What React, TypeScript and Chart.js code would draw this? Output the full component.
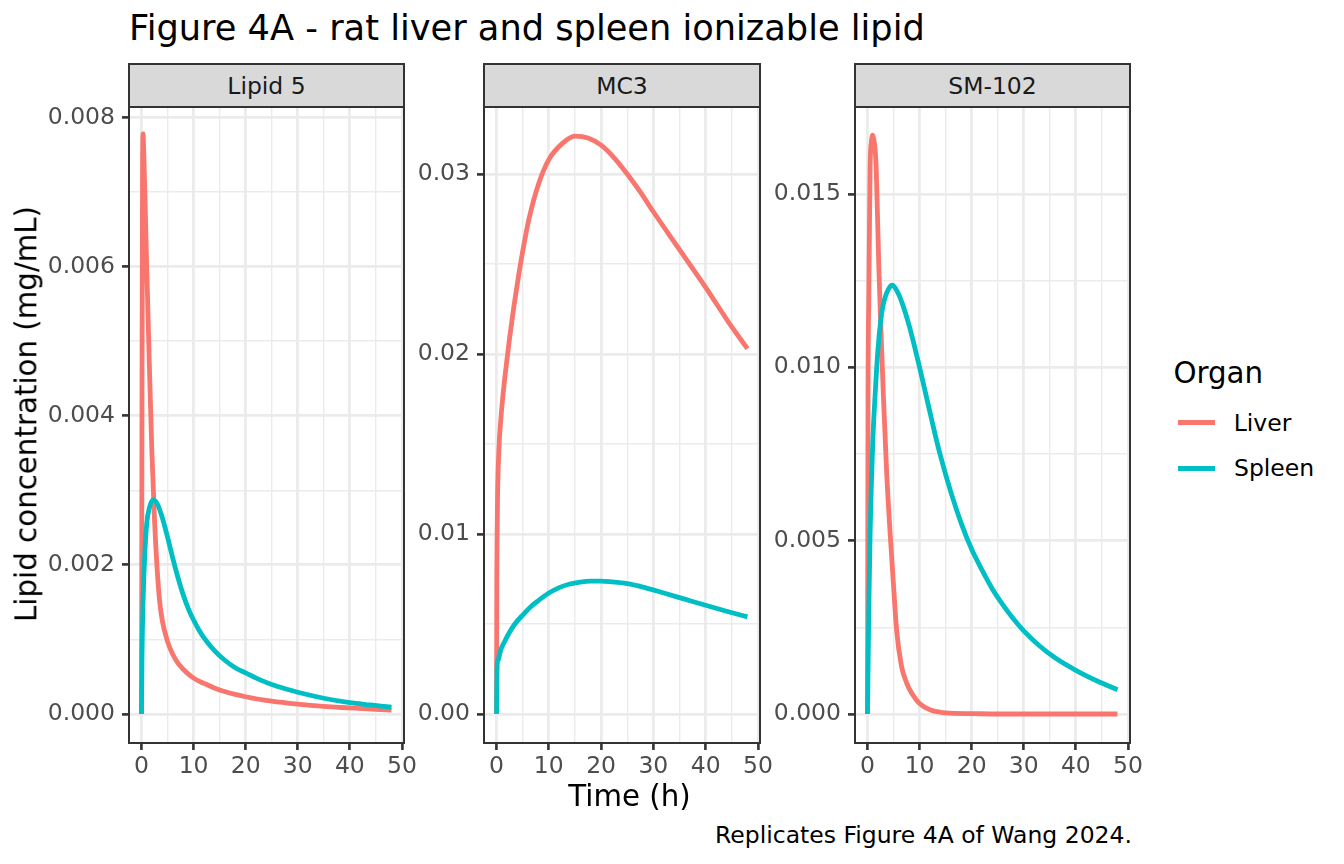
import { useEffect, useRef } from "react";
import { Chart, registerables, type ChartConfiguration } from "chart.js";

Chart.register(...registerables);

const FONT = "'DejaVu Sans', sans-serif";
const LIVER_COLOR = "#F8766D";
const SPLEEN_COLOR = "#00BFC4";

// time axis (h)
const X_MAJOR = [0, 10, 20, 30, 40, 50];
const X_MINOR = [5, 15, 25, 35, 45];

// Lipid 5
const L5_LIVER_T = [0, 0.1, 0.2, 0.3, 0.45, 0.75, 1, 1.5, 2, 2.5, 3, 3.5, 4, 5, 6, 7, 8, 10, 12, 15, 20, 25, 30, 35, 40, 45, 48];
const L5_LIVER = [0, 0.0045, 0.0072, 0.00778, 0.0075, 0.0067, 0.006, 0.0047, 0.0035, 0.0026, 0.00195, 0.0015, 0.00125, 0.00097, 0.0008, 0.00068, 0.0006, 0.00048, 0.00041, 0.00032, 0.00023, 0.00017, 0.00013, 0.0001, 0.00008, 0.00006, 0.00005];
const L5_SPLEEN_T = [0, 0.1, 0.3, 0.6, 1, 1.5, 2.2, 3, 4, 5, 6, 7, 8, 9, 10, 11, 12, 14, 16, 18, 20, 23, 26, 30, 35, 40, 44, 48];
const L5_SPLEEN = [0, 0.0008, 0.0015, 0.0021, 0.00255, 0.00276, 0.00287, 0.00282, 0.00263, 0.00237, 0.00209, 0.00183, 0.0016, 0.00141, 0.00126, 0.00113, 0.00102, 0.00085, 0.00072, 0.00062, 0.00055, 0.00045, 0.00037, 0.00029, 0.00021, 0.00015, 0.00012, 0.00009];
const L5_Y_MAJOR = [0, 0.002, 0.004, 0.006, 0.008];
const L5_Y_MINOR = [0.001, 0.003, 0.005, 0.007];

// MC3
const MC3_LIVER_T = [0, 0.05, 0.1, 0.2, 0.45, 0.8, 1.4, 2, 2.5, 3.3, 4.3, 5, 6.2, 8.1, 10, 12.6, 15, 17.5, 20, 22.5, 25, 27.5, 30, 35, 40, 45, 48];
const MC3_LIVER = [0, 0.0075, 0.0097, 0.0122, 0.0147, 0.0163, 0.0182, 0.0197, 0.0209, 0.0226, 0.0245, 0.0257, 0.0275, 0.0295, 0.0308, 0.0317, 0.0321, 0.032, 0.0316, 0.0309, 0.0300, 0.029, 0.0279, 0.0258, 0.0237, 0.0215, 0.0203];
const MC3_SPLEEN_T = [0, 0.1, 0.3, 0.8, 1.5, 2.4, 3.5, 5, 6.5, 8, 10, 12, 14, 16, 18, 20, 22, 25, 28, 32, 36, 40, 44, 48];
const MC3_SPLEEN = [0, 0.0026, 0.003, 0.00356, 0.004, 0.0045, 0.005, 0.0055, 0.00595, 0.0063, 0.00672, 0.00702, 0.00722, 0.00733, 0.00738, 0.00738, 0.00734, 0.00724, 0.00705, 0.00672, 0.00638, 0.00604, 0.00571, 0.0054];
const MC3_Y_MAJOR = [0, 0.01, 0.02, 0.03];
const MC3_Y_MINOR = [0.005, 0.015, 0.025];

// SM-102
const SM_LIVER_T = [0, 0.1, 0.25, 0.5, 0.75, 1, 1.3, 1.66, 2.17, 2.6, 3.07, 3.7, 4.35, 5, 5.6, 6.5, 7.5, 8.5, 10, 12, 15, 20, 25, 30, 35, 40, 45, 48];
const SM_LIVER = [0, 0.009, 0.012, 0.0158, 0.0165, 0.0167, 0.0165, 0.0158, 0.0129, 0.011, 0.0091, 0.0069, 0.0052, 0.0037, 0.0024, 0.0014, 0.0009, 0.0006, 0.0003, 0.00012, 0.00003, 0.00001, 0, 0, 0, 0, 0, 0];
const SM_SPLEEN_T = [0, 0.25, 0.5, 1, 1.5, 2, 2.5, 3, 3.5, 4, 4.7, 5, 6, 7, 8, 9, 10, 11, 12, 13, 14, 16, 18, 20, 22, 24, 26, 28, 30, 33, 36, 40, 44, 48];
const SM_SPLEEN = [0, 0.003, 0.0052, 0.0078, 0.0093, 0.0105, 0.0113, 0.0118, 0.01207, 0.01225, 0.01237, 0.01235, 0.0121, 0.0117, 0.0112, 0.01062, 0.01, 0.00935, 0.0087, 0.00805, 0.00745, 0.0064, 0.0055, 0.00475, 0.00415, 0.0036, 0.00315, 0.00275, 0.0024, 0.00197, 0.00162, 0.00126, 0.00096, 0.0007];
const SM_Y_MAJOR = [0, 0.005, 0.01, 0.015];
const SM_Y_MINOR = [0.0025, 0.0075, 0.0125];

// layout (px)
const PLOT_TOP = 107;
const PLOT_BOTTOM = 743;
const STRIP_TOP = 63;
const AXIS_W = 90;
const PAD_TOP = 16;
const PAD_RIGHT = 18;
const XAXIS_H = 50;

type TickSpec = { value: number; major: boolean };

function tickList(major: number[], minor: number[]): TickSpec[] {
  return [
    ...major.map((v) => ({ value: v, major: true })),
    ...minor.map((v) => ({ value: v, major: false })),
  ].sort((a, b) => a.value - b.value);
}

const framePlugin = {
  id: "frame",
  afterDraw(chart: Chart) {
    const { ctx, chartArea } = chart;
    ctx.save();
    ctx.strokeStyle = "#333333";
    ctx.lineWidth = 2;
    ctx.strokeRect(chartArea.left, chartArea.top, chartArea.right - chartArea.left, chartArea.bottom - chartArea.top);
    ctx.restore();
  },
};

interface PanelProps {
  title: string;
  left: number;
  right: number;
  yMin: number;
  yMax: number;
  yMajor: number[];
  yMinor: number[];
  digits: number;
  liverT: number[];
  liver: number[];
  spleenT: number[];
  spleen: number[];
}

function gridOpts() {
  return {
    color: "#EBEBEB",
    lineWidth: (c: any) => (c.tick && c.tick.major ? 2.8 : 1.4),
    tickColor: (c: any) => (c.tick && c.tick.major ? "#333333" : "rgba(0,0,0,0)"),
    tickWidth: 2.6,
    tickLength: 7,
    drawTicks: true,
  };
}

function Panel(p: PanelProps) {
  const canvasRef = useRef<HTMLCanvasElement>(null);
  const w = p.right - p.left + AXIS_W + PAD_RIGHT;
  const h = PLOT_BOTTOM - PLOT_TOP + PAD_TOP + XAXIS_H;

  useEffect(() => {
    if (!canvasRef.current) return;
    const xTicks = tickList(X_MAJOR, X_MINOR);
    const yTicks = tickList(p.yMajor, p.yMinor);
    const tickFont = { family: FONT, size: 23.5 };

    const config: ChartConfiguration<"line"> = {
      type: "line",
      data: {
        datasets: [
          {
            label: "Spleen",
            data: p.spleenT.map((t, i) => ({ x: t, y: p.spleen[i] })),
            borderColor: SPLEEN_COLOR,
            borderWidth: 4.8,
            pointRadius: 0,
            cubicInterpolationMode: "monotone",
            borderJoinStyle: "round",
            order: 0,
          },
          {
            label: "Liver",
            data: p.liverT.map((t, i) => ({ x: t, y: p.liver[i] })),
            borderColor: LIVER_COLOR,
            borderWidth: 4.8,
            pointRadius: 0,
            cubicInterpolationMode: "monotone",
            borderJoinStyle: "round",
            order: 1,
          },
        ],
      },
      options: {
        animation: false,
        responsive: false,
        events: [],
        layout: { padding: { top: PAD_TOP, right: PAD_RIGHT, left: 0, bottom: 0 } },
        plugins: { legend: { display: false }, tooltip: { enabled: false } },
        scales: {
          x: {
            type: "linear",
            min: -2.4,
            max: 50.4,
            afterBuildTicks: (s: any) => {
              s.ticks = xTicks.map((t) => ({ ...t }));
            },
            afterFit: (s: any) => {
              s.height = XAXIS_H;
              s.paddingLeft = 0;
              s.paddingRight = 0;
              s.paddingTop = 0;
              s.paddingBottom = 0;
            },
            border: { display: false },
            grid: gridOpts() as any,
            ticks: {
              autoSkip: false,
              maxRotation: 0,
              padding: 3,
              color: "#4D4D4D",
              font: tickFont,
              callback: (v: any, i: number, ticks: any[]) => (ticks[i].major ? String(v) : ""),
            },
          },
          y: {
            type: "linear",
            min: p.yMin,
            max: p.yMax,
            afterBuildTicks: (s: any) => {
              s.ticks = yTicks.map((t) => ({ ...t }));
            },
            afterFit: (s: any) => {
              s.width = AXIS_W;
              s.paddingLeft = 0;
              s.paddingRight = 0;
              s.paddingTop = 0;
              s.paddingBottom = 0;
            },
            border: { display: false },
            grid: gridOpts() as any,
            ticks: {
              autoSkip: false,
              padding: 7,
              color: "#4D4D4D",
              font: tickFont,
              callback: (v: any, i: number, ticks: any[]) =>
                ticks[i].major ? Number(v).toFixed(p.digits) : "",
            },
          },
        },
      },
      plugins: [framePlugin],
    };

    const chart = new Chart(canvasRef.current, config);
    return () => chart.destroy();
  }, []);

  return (
    <>
      <canvas
        ref={canvasRef}
        width={w}
        height={h}
        style={{ position: "absolute", left: p.left - AXIS_W, top: PLOT_TOP - PAD_TOP, width: w, height: h }}
      />
      <div
        style={{
          position: "absolute",
          left: p.left - 1,
          top: STRIP_TOP,
          width: p.right - p.left + 2,
          height: PLOT_TOP - STRIP_TOP + 1,
          boxSizing: "border-box",
          background: "#D9D9D9",
          border: "2px solid #333333",
          color: "#1A1A1A",
          fontSize: 23.5,
          display: "flex",
          alignItems: "center",
          justifyContent: "center",
        }}
      >
        {p.title}
      </div>
    </>
  );
}

function abs(left: number, top: number, size: number, extra: React.CSSProperties = {}): React.CSSProperties {
  return { position: "absolute", left, top, fontSize: size, lineHeight: `${size}px`, whiteSpace: "nowrap", ...extra };
}

export default function App() {
  return (
    <div
      style={{
        position: "absolute",
        left: 0,
        top: 0,
        width: 1344,
        height: 864,
        background: "#ffffff",
        fontFamily: FONT,
        color: "#000000",
        overflow: "hidden",
      }}
    >
      <div style={abs(129, 9.5, 35.2)}>Figure 4A - rat liver and spleen ionizable lipid</div>

      <Panel title="Lipid 5" left={129} right={404} yMin={-0.00039} yMax={0.00814}
        yMajor={L5_Y_MAJOR} yMinor={L5_Y_MINOR} digits={3}
        liverT={L5_LIVER_T} liver={L5_LIVER} spleenT={L5_SPLEEN_T} spleen={L5_SPLEEN} />
      <Panel title="MC3" left={484} right={760} yMin={-0.00161} yMax={0.03372}
        yMajor={MC3_Y_MAJOR} yMinor={MC3_Y_MINOR} digits={2}
        liverT={MC3_LIVER_T} liver={MC3_LIVER} spleenT={MC3_SPLEEN_T} spleen={MC3_SPLEEN} />
      <Panel title="SM-102" left={855} right={1130} yMin={-0.000837} yMax={0.017509}
        yMajor={SM_Y_MAJOR} yMinor={SM_Y_MINOR} digits={3}
        liverT={SM_LIVER_T} liver={SM_LIVER} spleenT={SM_SPLEEN_T} spleen={SM_SPLEEN} />

      <div
        style={abs(27.2, 414, 29.3, {
          transform: "translate(-50%, -50%) rotate(-90deg)",
        })}
      >
        Lipid concentration (mg/mL)
      </div>
      <div style={abs(629.5, 782.2, 29.3, { transform: "translateX(-50%)" })}>Time (h)</div>
      <div style={abs(0, 823.6, 23.5, { left: "auto", right: 1344 - 1132 })}>
        Replicates Figure 4A of Wang 2024.
      </div>

      <div style={abs(1173.4, 358.5, 29.3)}>Organ</div>
      <div style={{ position: "absolute", left: 1178, top: 420.3, width: 37, height: 4.8, background: LIVER_COLOR }} />
      <div style={{ position: "absolute", left: 1178, top: 465.9, width: 37, height: 4.8, background: SPLEEN_COLOR }} />
      <div style={abs(1233.7, 411.8, 23.5)}>Liver</div>
      <div style={abs(1234, 457.4, 23.5)}>Spleen</div>
    </div>
  );
}
